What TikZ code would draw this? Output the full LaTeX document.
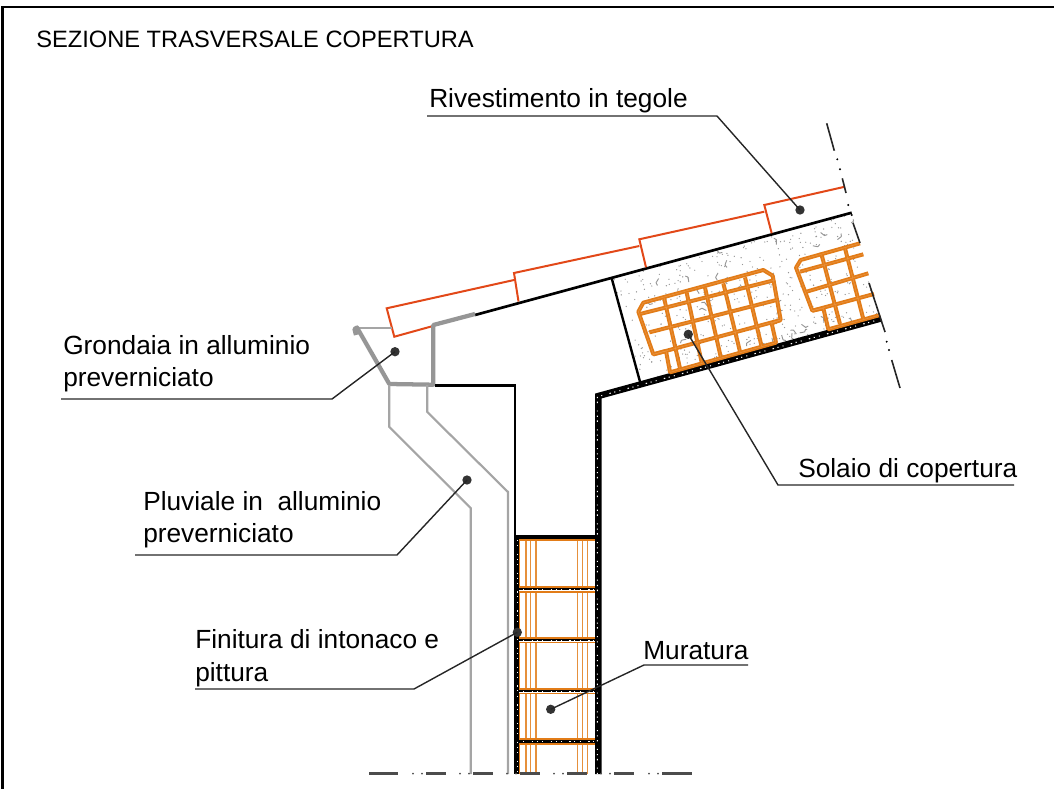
\documentclass[tikz,border=0pt]{standalone}
\usepackage{fontspec}
\setmainfont{Liberation Sans}
\pgfmathsetseed{17}
\definecolor{tilered}{RGB}{226,72,24}
\definecolor{meshor}{RGB}{226,124,24}
\definecolor{meshli}{RGB}{234,150,70}
\definecolor{pipegray}{RGB}{165,165,165}
\definecolor{guttergray}{RGB}{150,150,150}
\definecolor{speck}{RGB}{150,150,150}
\tikzset{
  px/.style={x=0.75pt,y=-0.75pt},
  tile/.style={draw=tilered,line width=1.5pt,line join=miter},
  leader/.style={draw=black!85,line width=1.05pt},
  dotmark/.style={circle,fill=black!80,inner sep=0pt,minimum size=7pt},
  lab/.style={anchor=base west,inner sep=0pt,font=\fontsize{19.7}{24}\selectfont},
  mesh/.style={draw=meshor,line width=3pt,line join=bevel},
  meshin/.style={draw=meshli,line width=0.35pt},
  pipe/.style={draw=pipegray,line width=1.6pt},
  gutter/.style={draw=guttergray,line width=3.2pt,line join=round},
  plaster/.style={draw=black,line width=4.8pt},
  plasterspeck/.style={draw=white,line width=0.8pt,dash pattern=on 0.8pt off 3.2pt on 0.7pt off 5.6pt on 1.1pt off 2.7pt},
  brick/.style={draw=meshor,line width=1.7pt},
  hollow/.style={draw=meshor!85!white,line width=0.8pt},
  axisdash/.style={draw=black!85,line width=1.2pt},
  bottomdash/.style={draw=black!70,line width=1.8pt}
}
\begin{document}
\begin{tikzpicture}[px]
\useasboundingbox (0,0) rectangle (1054,789);
% frame
\draw[line width=1.8pt] (2.5,789) -- (2.5,7) -- (1054,7);

% slab concrete with speckles
\begin{scope}
\clip (611.7,278.3) -- (851.7,212.7) -- (881,318) -- (640,381.7) -- cycle;
\foreach \i in {1,...,420}{
  \pgfmathsetmacro{\a}{rnd}\pgfmathsetmacro{\b}{rnd}
  \pgfmathsetmacro{\px}{611.7+\a*240+\b*29}
  \pgfmathsetmacro{\py}{278.3-\a*65.6+\b*103}
  \fill[speck] (\px,\py) circle (0.5pt);
}
\foreach \i in {1,...,34}{
  \pgfmathsetmacro{\a}{rnd}\pgfmathsetmacro{\b}{rnd}
  \pgfmathsetmacro{\px}{611.7+\a*240+\b*29}
  \pgfmathsetmacro{\py}{278.3-\a*65.6+\b*103}
  \pgfmathsetmacro{\r}{rnd*360}
  \draw[speck,line width=0.7pt] (\px,\py) -- ++(\r:5) (\px,\py) -- ++(\r+120:3);
}
\end{scope}

% roof top line, slab left side
\draw[line width=2pt] (475,315) -- (851.7,212.7);
\draw[line width=1.8pt] (611.7,278.3) -- (640,381.7);

% tiles
\draw[tile] (433,326) -- (394.3,336.7) -- (386.7,308.3) -- (514,280);
\draw[tile] (518.5,301.5) -- (514,273) -- (639.3,246);
\draw[tile] (646,267.3) -- (639.3,239.3) -- (764.3,211.7);
\draw[tile] (771.7,233.3) -- (764.3,205) -- (845,186.7);

% gutter
\draw[pipe] (356.7,328) -- (391.7,328);
\draw[gutter] (356,335) -- (354.5,329) -- (357,327.5) -- (389.3,384) -- (433.3,384.7) -- (433.3,325) -- (475,314);

% finishing line
\draw[line width=1.8pt] (435,385.5) -- (515,385.5) -- (515,537);

% downpipe
\draw[pipe] (389.3,385) -- (389.3,427) -- (470.7,508) -- (470.7,774);
\draw[pipe] (427.3,385) -- (427.3,412) -- (508,492) -- (508,774);

% bricks
\fill[white] (518,538) rectangle (596,774);
\foreach \x in {526,530.7,536,577.3,582.7,587.3}{ \draw[hollow] (\x,540) -- (\x,774); }
\draw[brick] (518.5,540) rectangle (595.7,586.7);
\draw[brick] (518.5,591.7) rectangle (595.7,637.7);
\draw[brick] (518.5,642.3) rectangle (595.7,689);
\draw[brick] (518.5,692.7) rectangle (595.7,739.3);
\draw[brick] (518.5,774) -- (518.5,744) -- (595.7,744) -- (595.7,774);

% mortar courses
\foreach \y in {589,640,691,741.7}{
  \fill[white] (518,\y-1.5) rectangle (596,\y+1.5);
  \draw[line width=2.2pt] (518,\y) -- (596,\y);
  \draw[plasterspeck,line width=0.6pt] (518,\y) -- (596,\y);
}
% wall finish
\draw[line width=2.8pt] (516,537) -- (597,537);
\draw[plaster,line width=3.8pt] (516.6,537) -- (516.6,774);
\draw[plasterspeck,line width=0.5pt] (517.6,540) -- (517.6,774);
% right plaster and soffit
\draw[plaster,line join=miter] (598.3,774) -- (598.3,396) -- (881,318.5);
\draw[plasterspeck] (597.3,774) -- (597.3,396.8) -- (880,319.4);

% mesh blocks, over the soffit
\foreach \mystyle in {mesh,meshin}{
\begin{scope}[shift={(590,120)},x=0.25pt,y=-0.25pt]
\draw[\mystyle] (228,693) -- (190,703) -- (145,575) -- (160,548) -- (520,450) -- (548,467) -- (572,600) -- (545,610) -- (558,668) -- (240,757) -- (228,693);
\draw[\mystyle] (150,582) -- (555,480);
\draw[\mystyle] (178,637) -- (560,540);
\draw[\mystyle] (190,703) -- (572,600);
\draw[\mystyle] (222,533) -- (270,745);
\draw[\mystyle] (290,518) -- (335,727);
\draw[\mystyle] (345,503) -- (392,710);
\draw[\mystyle] (400,490) -- (450,695);
\draw[\mystyle] (465,472) -- (515,680);
% block 2
\draw[\mystyle] (810,370) -- (632,420) -- (618,443) -- (667,572) -- (700,565) -- (715,628) -- (870,585);
\draw[\mystyle] (630,455) -- (820,403);
\draw[\mystyle] (650,515) -- (835,460);
\draw[\mystyle] (667,572) -- (852,522);
\draw[\mystyle] (695,405) -- (750,612);
\draw[\mystyle] (765,385) -- (820,597);
\end{scope}
}

% axis (dash-dot)
\draw[axisdash] (826.7,123.3) -- (834.3,150.7);
\fill (837.3,159.3) circle (0.8pt) (840,169.3) circle (0.8pt);
\draw[axisdash] (842.3,178.3) -- (846,193);
\fill (848.3,205) circle (0.8pt) (851.7,215) circle (0.8pt);
\draw[axisdash] (853,223) -- (860,243);
\draw[axisdash] (869,283) -- (885,332);
\fill (886.7,341.7) circle (0.8pt) (889,350) circle (0.8pt);
\draw[axisdash] (891.7,360) -- (900,388);

% bottom break line
\draw[bottomdash] (369,773.5) -- (398,773.5);
\foreach \x in {426,473,520,567,614}{
  \draw[bottomdash] (\x,773.5) -- (\x+20,773.5);
  \fill[black!70] (\x-13,773.5) circle (0.75pt) (\x-4,773.5) circle (0.75pt);
}
\draw[bottomdash] (662,773.5) -- (692,773.5);
\fill[black!70] (649,773.5) circle (0.75pt) (658,773.5) circle (0.75pt);

% labels
\node[lab] (titolo) at (36,47) {\fontsize{17.75}{20}\selectfont SEZIONE TRASVERSALE COPERTURA};
\node[lab] (riv) at (429,107) {Rivestimento in tegole};
\node[lab] (gr1) at (63,354) {Grondaia in alluminio};
\node[lab] (gr2) at (63,386) {preverniciato};
\node[lab] (plu1) at (143,510) {Pluviale in\ \ alluminio};
\node[lab] (plu2) at (143,542) {preverniciato};
\node[lab] (fin1) at (195,648) {Finitura di intonaco e};
\node[lab] (fin2) at (195,681) {pittura};
\node[lab] (mur) at (643,659) {Muratura};
\node[lab] (sol) at (798,477) {Solaio di copertura};

% leaders
\node[dotmark] (d1) at (800,210) {};
\node[dotmark] (d2) at (395,351.7) {};
\node[dotmark] (d3) at (467,480) {};
\node[dotmark] (d4) at (517.3,632.3) {};
\node[dotmark] (d5) at (550.7,709.3) {};
\node[dotmark] (d6) at (688.3,334.3) {};
\coordinate (r0) at (427,116); \coordinate (r1) at (717,116);
\coordinate (g0) at (61,399); \coordinate (g1) at (332,399);
\coordinate (p0) at (135,555); \coordinate (p1) at (397,555);
\coordinate (f0) at (195,689); \coordinate (f1) at (414,689);
\coordinate (m0) at (748,665); \coordinate (m1) at (644,665);
\coordinate (s0) at (1014,485); \coordinate (s1) at (778,485);
\draw[leader] (r0) -- (r1) -- (d1.center);
\draw[leader] (g0) -- (g1) -- (d2.center);
\draw[leader] (p0) -- (p1) -- (d3.center);
\draw[leader] (f0) -- (f1) -- (d4.center);
\draw[leader] (m0) -- (m1) -- (d5.center);
\draw[leader] (s0) -- (s1) -- (d6.center);
\end{tikzpicture}
\end{document}
